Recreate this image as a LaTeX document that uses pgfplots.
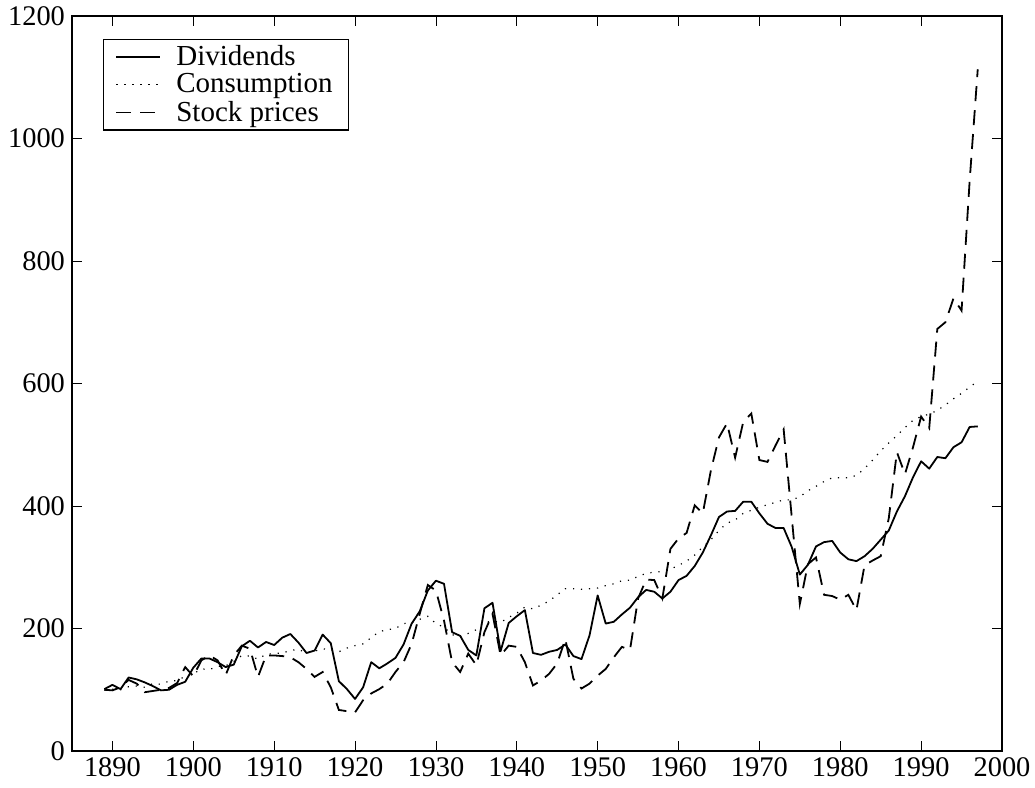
\documentclass[border=0pt]{standalone}
\usepackage{fontspec}
\setmainfont{Liberation Serif}
\usepackage{pgfplots}
\pgfplotsset{compat=1.18}
\usepackage{pgfplotstable}
\pgfplotstableread{
year div cons stock
1889 101 99 100
1890 108 101 99
1891 101 100 104
1892 120 105 116
1893 117 106 110
1894 112 104 96
1895 106 110 98
1896 99 109 100
1897 100 114 103
1898 108 115 111
1899 113 122 137
1900 136 126 122
1901 151 134 148
1902 151 133 156
1903 145 138 148
1904 137 139 124
1905 141 146 156
1906 171 156 172
1907 180 155 167
1908 169 150 121
1909 178 158 156
1910 173 159 156
1911 185 160 155
1912 191 164 153
1913 177 166 145
1914 160 160 134
1915 164 163 121
1916 190 167 129
1917 176 165 104
1918 114 162 67
1919 101 168 65
1920 85 172 63
1921 104 175 83
1922 145 185 94
1923 135 195 101
1924 143 198 110
1925 152 200 129
1926 174 208 145
1927 208 210 175
1928 228 215 224
1929 262 220 271
1930 278 208 262
1931 273 202 213
1932 194 190 145
1933 188 186 129
1934 165 192 159
1935 156 198 140
1936 233 210 194
1937 242 212 224
1938 163 210 156
1939 209 218 172
1940 220 225 170
1941 230 235 145
1942 160 232 107
1943 157 238 115
1944 162 245 126
1945 165 255 143
1946 174 265 183
1947 155 265 118
1948 150 264 102
1949 189 265 110
1950 254 266 123
1951 208 270 134
1952 211 273 153
1953 223 278 170
1954 234 279 165
1955 251 285 249
1956 263 290 280
1957 260 292 279
1958 249 293 249
1959 260 297 330
1960 279 303 347
1961 286 310 356
1962 302 320 401
1963 324 333 388
1964 352 345 458
1965 382 360 512
1966 391 372 535
1967 392 377 479
1968 407 388 537
1969 407 393 551
1970 388 398 475
1971 371 402 472
1972 364 406 499
1973 364 410 525
1974 333 410 382
1975 288 415 240
1976 304 425 305
1977 334 432 316
1978 341 440 255
1979 343 446 253
1980 324 446 247
1981 313 446 255
1982 310 450 230
1983 318 461 303
1984 330 475 311
1985 345 490 318
1986 360 503 380
1987 391 515 488
1988 416 528 452
1989 447 540 496
1990 473 546 546
1991 461 550 527
1992 480 556 689
1993 478 565 700
1994 496 575 739
1995 504 584 719
1996 529 594 931
1997 530 604 1113
}\data
\begin{document}
\begin{tikzpicture}
\begin{axis}[
  scale only axis, width=465pt, height=367.5pt,
  xmin=1885, xmax=2000, ymin=0, ymax=1200,
  xtick={1890,1900,...,2000}, ytick={0,200,...,1200},
  /pgf/number format/assume math mode=true,
  /pgf/number format/set thousands separator={},
  tick label style={font=\fontsize{14.2}{16}\selectfont},
  major tick length=5pt,
  tick style={black, line width=0.4pt},
  axis line style={line width=0.6pt},
  legend cell align=left,
  legend image code/.code={\draw[#1] (0pt,0pt) -- (22pt,0pt); \path (27.5pt,0pt);},
  legend style={at={(0.0333,0.9687)}, anchor=north west, draw=black, line width=0.6pt,
    font=\fontsize{14.5}{16}\selectfont, inner xsep=6pt, inner ysep=1pt, row sep=-1.5pt},
]
\addplot[black, line width=0.9pt, line join=round] table[x=year,y=div]{\data};
\addlegendentry{Dividends}
\addplot[black, line width=0.6pt, dash pattern=on 0.6pt off 3.4pt] table[x=year,y=cons]{\data};
\addlegendentry{Consumption}
\addplot[black, line width=0.9pt, dash pattern=on 7.5pt off 4.5pt] table[x=year,y=stock]{\data};
\addlegendentry{Stock prices}
\end{axis}
\pgfresetboundingbox
\path (current axis.south west) ++(-36pt,-18.15pt) coordinate (bl);
\path (current axis.north east) ++(16.5pt,8pt) coordinate (tr);
\path[use as bounding box] (bl) rectangle (tr);
\end{tikzpicture}
\end{document}
